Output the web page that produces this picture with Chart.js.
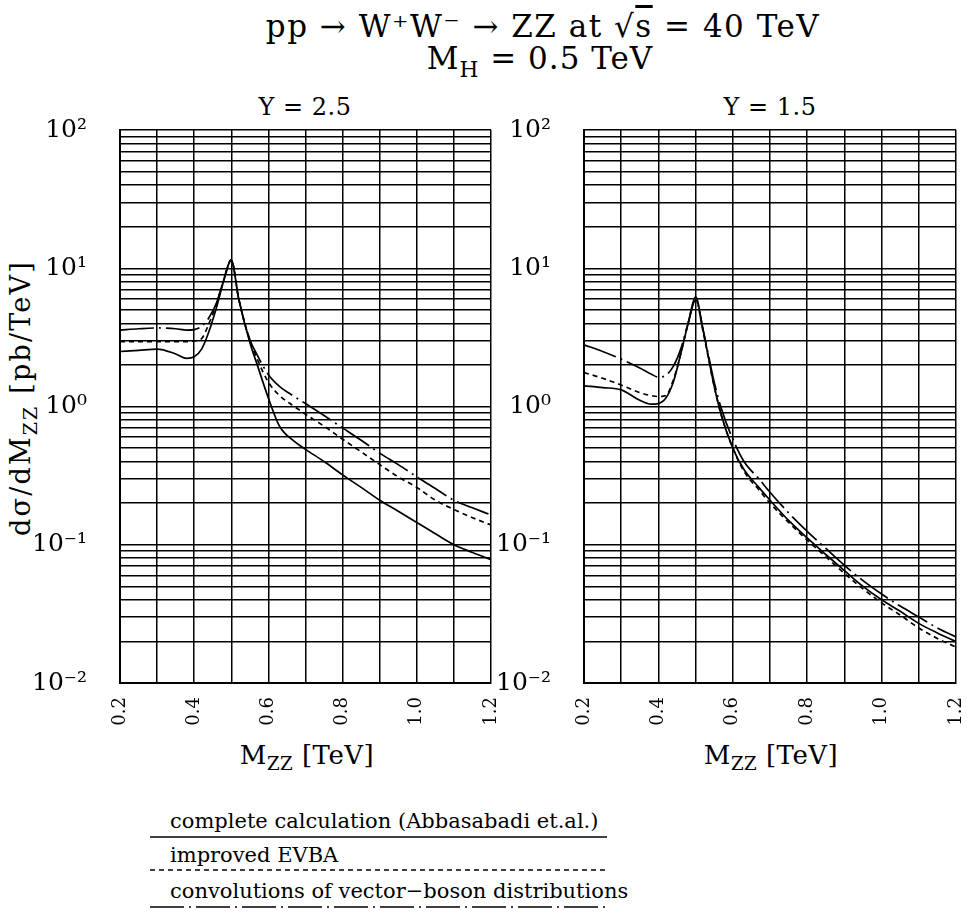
<!DOCTYPE html>
<html>
<head>
<meta charset="utf-8">
<script src="https://cdn.jsdelivr.net/npm/chart.js@4/dist/chart.umd.min.js"></script>
<style>
  body { margin: 0; background: #fff; width: 967px; height: 912px; position: relative; overflow: hidden;
         font-family: "DejaVu Serif", "Liberation Serif", serif; color: #000; }
  canvas { position: absolute; }
  .txt { position: absolute; white-space: nowrap; }
  .ctr { transform: translateX(-50%); }
  sub { font-size: 70%; vertical-align: -0.35em; }
  .ov { text-decoration: overline; }
</style>
</head>
<body>
<div class="txt ctr" style="left:543px; top:8px; font-size:31px; letter-spacing:1.5px;">pp → W⁺W⁻ → ZZ at √<span class="ov">s</span> = 40 TeV</div>
<div class="txt ctr" style="left:540px; top:40px; font-size:31px; letter-spacing:1px;">M<sub>H</sub> = 0.5 TeV</div>
<div class="txt ctr" style="left:305px; top:93px; font-size:24px; letter-spacing:0.5px;">Y = 2.5</div>
<div class="txt ctr" style="left:770px; top:93px; font-size:24px; letter-spacing:0.5px;">Y = 1.5</div>
<div class="txt" style="left:23px; top:398px; font-size:27px; letter-spacing:2.2px; transform: translate(-50%,-50%) rotate(-90deg);">dσ/dM<sub>ZZ</sub> [pb/TeV]</div>
<div class="txt ctr" style="left:307px; top:740px; font-size:26px; letter-spacing:0.5px;">M<sub>ZZ</sub> [TeV]</div>
<div class="txt ctr" style="left:771px; top:740px; font-size:26px; letter-spacing:0.5px;">M<sub>ZZ</sub> [TeV]</div>

<canvas id="left" width="500" height="640" style="left:0; top:110px;"></canvas>
<canvas id="right" width="472" height="640" style="left:495px; top:110px;"></canvas>

<div class="txt" style="left:170px; top:809px; font-size:21px;">complete calculation (Abbasabadi et.al.)</div>
<div class="txt" style="left:170px; top:843px; font-size:21px;">improved EVBA</div>
<div class="txt" style="left:170px; top:879px; font-size:21px;">convolutions of vector−boson distributions</div>
<svg style="position:absolute; left:0; top:0;" width="967" height="912">
  <line x1="150" y1="837" x2="607" y2="837" stroke="#000" stroke-width="1.6"/>
  <line x1="150" y1="870" x2="607" y2="870" stroke="#000" stroke-width="1.6" stroke-dasharray="5,4"/>
  <line x1="150" y1="907" x2="607" y2="907" stroke="#000" stroke-width="1.6" stroke-dasharray="34,5,2,5"/>
</svg>

<script>
// M_ZZ sample points [TeV]
const massPoints = [0.20, 0.25, 0.30, 0.35, 0.38, 0.40, 0.42, 0.44, 0.46, 0.48, 0.50, 0.52, 0.55, 0.57,
                    0.60, 0.63, 0.67, 0.70, 0.75, 0.80, 0.85, 0.90, 0.95, 1.00, 1.05, 1.10, 1.15, 1.20];

// Y = 2.5  (pb/TeV)
const completeY25 = [2.5, 2.55, 2.6, 2.4, 2.23, 2.29, 2.6, 3.5, 5.2, 8.2, 11.5, 6.0, 2.9, 2.0,
                     1.15, 0.72, 0.56, 0.49, 0.40, 0.32, 0.26, 0.21, 0.175, 0.145, 0.12, 0.10, 0.088, 0.078];
const evbaY25     = [2.94, 2.95, 2.95, 2.95, 2.95, 2.98, 3.1, 4.0, 5.5, 8.3, 11.5, 6.0, 3.0, 2.2,
                     1.5, 1.2, 1.0, 0.88, 0.72, 0.58, 0.47, 0.38, 0.31, 0.26, 0.21, 0.18, 0.157, 0.139];
const convY25     = [3.57, 3.65, 3.7, 3.65, 3.57, 3.6, 3.8, 4.4, 5.6, 8.4, 11.5, 6.0, 3.05, 2.35,
                     1.7, 1.4, 1.18, 1.05, 0.86, 0.70, 0.57, 0.46, 0.38, 0.31, 0.255, 0.21, 0.185, 0.164];

// Y = 1.5  (pb/TeV)
const completeY15 = [1.41, 1.37, 1.32, 1.11, 1.04, 1.05, 1.15, 1.5, 2.4, 4.0, 6.2, 3.6, 1.4, 0.85,
                     0.5, 0.35, 0.26, 0.21, 0.15, 0.112, 0.085, 0.065, 0.05, 0.04, 0.033, 0.027, 0.023, 0.0199];
const evbaY15     = [1.76, 1.6, 1.43, 1.26, 1.2, 1.18, 1.2, 1.55, 2.4, 4.0, 6.0, 3.5, 1.4, 0.85,
                     0.5, 0.34, 0.25, 0.2, 0.145, 0.108, 0.082, 0.062, 0.048, 0.038, 0.031, 0.025, 0.021, 0.0182];
const convY15     = [2.79, 2.5, 2.2, 1.9, 1.72, 1.63, 1.68, 1.95, 2.6, 4.0, 5.9, 3.6, 1.5, 0.95,
                     0.58, 0.4, 0.3, 0.24, 0.17, 0.125, 0.094, 0.071, 0.055, 0.044, 0.036, 0.03, 0.025, 0.0215];

// log grid lines on the y axis
const yTicks = [0.01, 0.02, 0.03, 0.04, 0.05, 0.06, 0.07, 0.08, 0.09,
                0.1, 0.2, 0.3, 0.4, 0.5, 0.6, 0.7, 0.8, 0.9,
                1, 2, 3, 4, 5, 6, 7, 8, 9,
                10, 20, 30, 40, 50, 60, 70, 80, 90, 100];
const yTickLabels = { '-2': '10⁻²', '-1': '10⁻¹', '0': '10⁰', '1': '10¹', '2': '10²' };

function makeSeries(values, dash) {
    return {
        data: massPoints.map((m, i) => ({ x: m, y: values[i] })),
        borderColor: '#000',
        borderWidth: 1.7,
        borderDash: dash,
        pointRadius: 0,
        fill: false,
        cubicInterpolationMode: 'monotone'
    };
}

function createPanel(canvasId, series, yAxisWidth, padRight) {
    const ctx = document.getElementById(canvasId).getContext('2d');
    return new Chart(ctx, {
        type: 'line',
        data: {
            datasets: [
                makeSeries(series[0], []),
                makeSeries(series[1], [5, 4]),
                makeSeries(series[2], [34, 5, 2, 5])
            ]
        },
        options: {
            responsive: false,
            animation: false,
            devicePixelRatio: 1,
            layout: { padding: { top: 20, right: padRight, left: 0, bottom: 0 } },
            plugins: { legend: { display: false }, tooltip: { enabled: false } },
            scales: {
                x: {
                    type: 'linear',
                    min: 0.2,
                    max: 1.2,
                    // fixed axis box so the plot area lands where the reference has it
                    afterFit: (scale) => { scale.height = 67; scale.paddingLeft = 0; scale.paddingRight = 0; },
                    grid: { color: '#000', lineWidth: 1.5, drawTicks: false },
                    border: { color: '#000', width: 2 },
                    ticks: {
                        stepSize: 0.1,
                        autoSkip: false,
                        maxRotation: 90,
                        minRotation: 90,
                        padding: 14,
                        color: '#000',
                        font: { family: 'DejaVu Serif', size: 18 },
                        callback: (v) => (Math.round(v * 10) % 2 === 0 ? v.toFixed(1) : '')
                    }
                },
                y: {
                    type: 'logarithmic',
                    min: 0.01,
                    max: 100,
                    afterFit: (scale) => { scale.width = yAxisWidth; scale.paddingTop = 0; scale.paddingBottom = 0; },
                    afterBuildTicks: (scale) => { scale.ticks = yTicks.map(v => ({ value: v })); },
                    grid: { color: '#000', lineWidth: 1.5, drawTicks: false },
                    border: { color: '#000', width: 2 },
                    ticks: {
                        autoSkip: false,
                        padding: 33,
                        color: '#000',
                        font: { family: 'DejaVu Serif', size: 25 },
                        callback: (v) => {
                            const e = Math.log10(v);
                            const r = Math.round(e);
                            return Math.abs(e - r) < 1e-6 ? yTickLabels[String(r)] : '';
                        }
                    }
                }
            }
        }
    });
}

createPanel('left', [completeY25, evbaY25, convY25], 120, 9);
createPanel('right', [completeY15, evbaY15, convY15], 89, 11);
</script>
</body>
</html>
